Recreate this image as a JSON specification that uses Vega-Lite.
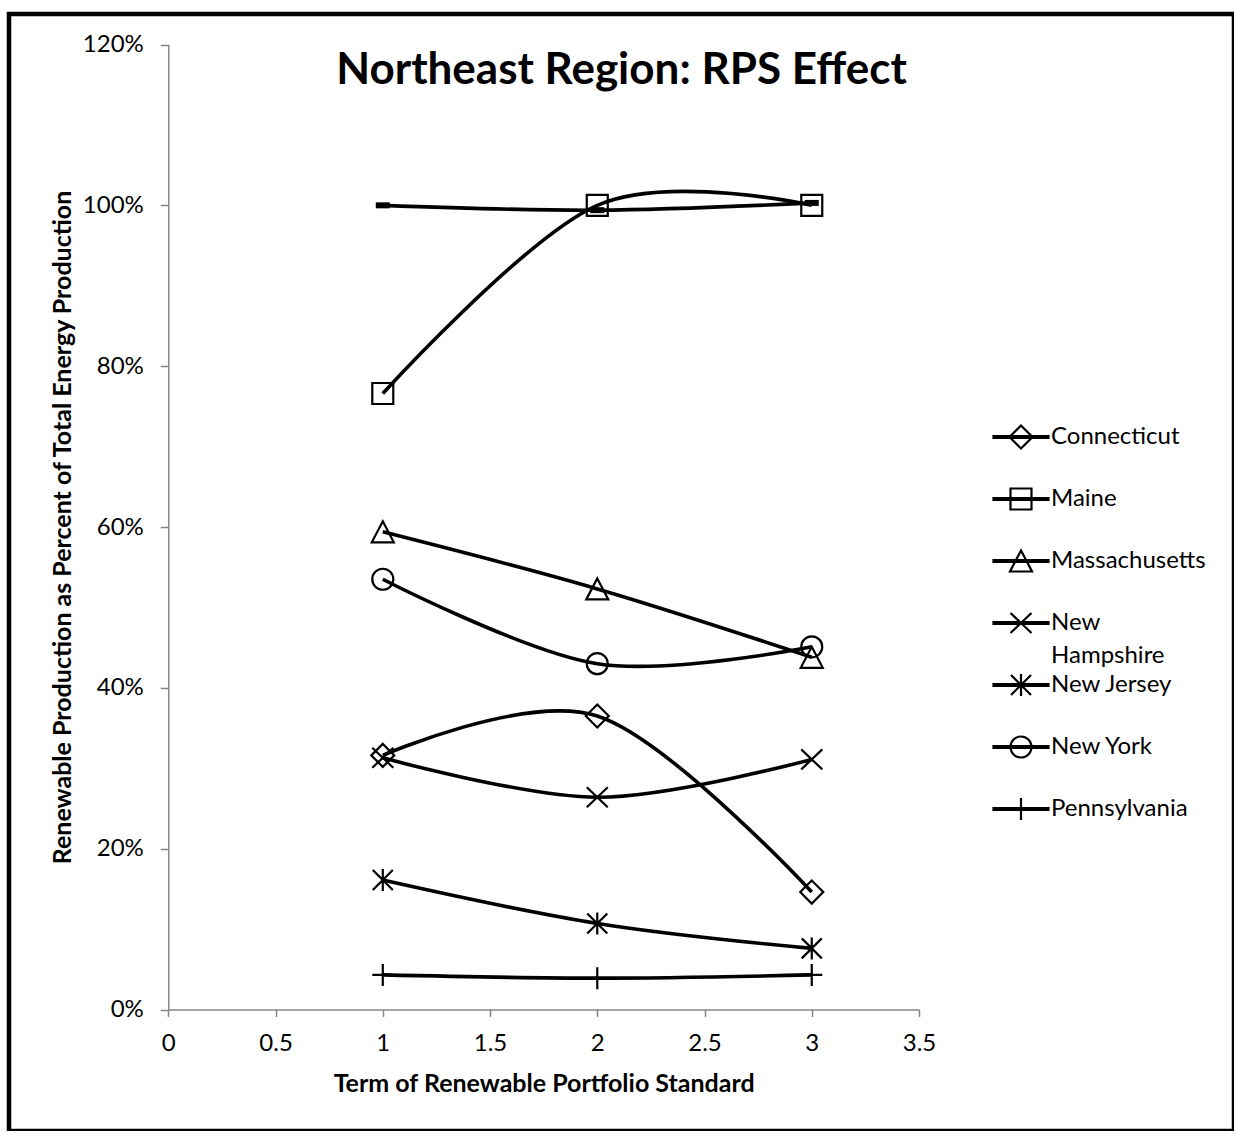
{
  "$schema": "https://vega.github.io/schema/vega-lite/v6.json",
  "width": 1225,
  "height": 1117,
  "autosize": {"type": "none"},
  "padding": {"left": 9, "top": 14, "right": 0, "bottom": 0},
  "background": "white",
  "config": {
    "view": {"stroke": "black", "strokeWidth": 4.5},
    "font": "Lato",
    "style": {"guide-label": {"lineHeight": 33}}
  },
  "title": {
    "text": "Northeast Region: RPS Effect",
    "font": "Lato",
    "fontSize": 44,
    "fontWeight": "bold",
    "color": "black",
    "anchor": "middle",
    "baseline": "alphabetic",
    "offset": -114
  },
  "data": {
    "values": [
      {"state": "Connecticut", "term": 1, "share": 0.316},
      {"state": "Connecticut", "term": 2, "share": 0.365},
      {"state": "Connecticut", "term": 3, "share": 0.146},
      {"state": "Maine", "term": 1, "share": 0.766},
      {"state": "Maine", "term": 2, "share": 1.0},
      {"state": "Maine", "term": 3, "share": 1.0},
      {"state": "Massachusetts", "term": 1, "share": 0.594},
      {"state": "Massachusetts", "term": 2, "share": 0.523},
      {"state": "Massachusetts", "term": 3, "share": 0.438},
      {"state": "New Hampshire", "term": 1, "share": 0.313},
      {"state": "New Hampshire", "term": 2, "share": 0.264},
      {"state": "New Hampshire", "term": 3, "share": 0.311},
      {"state": "New Jersey", "term": 1, "share": 0.161},
      {"state": "New Jersey", "term": 2, "share": 0.107},
      {"state": "New Jersey", "term": 3, "share": 0.076},
      {"state": "New York", "term": 1, "share": 0.535},
      {"state": "New York", "term": 2, "share": 0.43},
      {"state": "New York", "term": 3, "share": 0.451},
      {"state": "Pennsylvania", "term": 1, "share": 0.043},
      {"state": "Pennsylvania", "term": 2, "share": 0.039},
      {"state": "Pennsylvania", "term": 3, "share": 0.043},
      {"state": "Vermont", "term": 1, "share": 1.0},
      {"state": "Vermont", "term": 2, "share": 0.994},
      {"state": "Vermont", "term": 3, "share": 1.003}
    ]
  },
  "encoding": {
    "x": {
      "field": "term",
      "type": "quantitative",
      "scale": {"domain": [0, 3.5], "range": [159.3, 910], "nice": false, "zero": false},
      "axis": {
        "title": "Term of Renewable Portfolio Standard",
        "values": [0, 0.5, 1, 1.5, 2, 2.5, 3, 3.5],
        "format": "~g",
        "offset": -121.5,
        "grid": false,
        "domainColor": "#868686",
        "domainWidth": 1.5,
        "tickColor": "#868686",
        "tickWidth": 1.5,
        "tickSize": 7,
        "labelFont": "Lato",
        "labelFontSize": 24,
        "labelColor": "black",
        "labelPadding": 15,
        "labelFlush": false,
        "labelOverlap": false,
        "titleFont": "Lato",
        "titleFontSize": 25,
        "titleFontWeight": "bold",
        "titleColor": "black",
        "titleBaseline": "middle",
        "titleY": 73.5
      }
    },
    "y": {
      "field": "share",
      "type": "quantitative",
      "scale": {"domain": [0, 1.2], "range": [995.5, 30.5], "nice": false, "zero": false},
      "axis": {
        "title": "Renewable Production as Percent of Total Energy Production",
        "values": [0, 0.2, 0.4, 0.6, 0.8, 1.0, 1.2],
        "format": ".0%",
        "offset": -159.3,
        "grid": false,
        "domainColor": "#868686",
        "domainWidth": 1.5,
        "tickColor": "#868686",
        "tickWidth": 1.5,
        "tickSize": 8,
        "labelFont": "Lato",
        "labelFontSize": 24,
        "labelColor": "black",
        "labelPadding": 17,
        "labelFlush": false,
        "labelOverlap": false,
        "titleFont": "Lato",
        "titleFontSize": 25,
        "titleFontWeight": "bold",
        "titleColor": "black",
        "titleBaseline": "middle",
        "titleAngle": -90,
        "titleX": -106
      }
    }
  },
  "layer": [
    {
      "mark": {"type": "line", "color": "black", "strokeWidth": 3.6, "interpolate": "cardinal"},
      "encoding": {"detail": {"field": "state", "type": "nominal"}}
    },
    {
      "transform": [{"filter": "datum.state !== 'Vermont'"}],
      "mark": {"type": "point", "filled": false, "color": "black", "strokeWidth": 2.2, "size": 400, "opacity": 1},
      "encoding": {
        "shape": {
          "field": "state",
          "type": "nominal",
          "scale": {
            "domain": ["Connecticut", "Maine", "Massachusetts", "New Hampshire", "New Jersey", "New York", "Pennsylvania"],
            "range": [
              "M-1.15,0L0,-1.15L1.15,0L0,1.15Z",
              "M-1.05,-1.05L1.05,-1.05L1.05,1.05L-1.05,1.05Z",
              "M0,-1.05L1.1,1.05L-1.1,1.05Z",
              "M-1.05,-1L1.05,1M-1.05,1L1.05,-1",
              "M-1,-1L1,1M-1,1L1,-1M0,-1.1L0,1.1",
              "M1.05,0A1.05,1.05,0,1,1,-1.05,0A1.05,1.05,0,1,1,1.05,0Z",
              "M-1.05,0L1.05,0M0,-1.1L0,1.1"
            ]
          },
          "legend": null
        }
      }
    },
    {
      "transform": [{"filter": "datum.state === 'Vermont'"}],
      "mark": {"type": "point", "shape": "M-0.7,-0.3L0.7,-0.3L0.7,0.3L-0.7,0.3Z", "filled": true, "color": "black", "size": 400, "opacity": 1}
    },
    {
      "transform": [{"filter": "datum.state !== 'Vermont'"}],
      "mark": {"type": "point", "filled": false, "color": "black", "strokeWidth": 2.2, "size": 400, "opacity": 0},
      "encoding": {
        "shape": {
          "field": "state",
          "type": "nominal",
          "scale": {
            "domain": ["Connecticut", "Maine", "Massachusetts", "New Hampshire", "New Jersey", "New York", "Pennsylvania"],
            "range": [
              "M-2.75,-0.08L2.75,-0.08L2.75,0.08L-2.75,0.08ZM-1.15,0L0,-1.15L1.15,0L0,1.15Z",
              "M-2.75,-0.08L2.75,-0.08L2.75,0.08L-2.75,0.08ZM-1.05,-1.05L1.05,-1.05L1.05,1.05L-1.05,1.05Z",
              "M-2.75,-0.08L2.75,-0.08L2.75,0.08L-2.75,0.08ZM0,-1.05L1.1,1.05L-1.1,1.05Z",
              "M-2.75,-0.08L2.75,-0.08L2.75,0.08L-2.75,0.08ZM-1.05,-1L1.05,1M-1.05,1L1.05,-1",
              "M-2.75,-0.08L2.75,-0.08L2.75,0.08L-2.75,0.08ZM-1,-1L1,1M-1,1L1,-1M0,-1.1L0,1.1",
              "M-2.75,-0.08L2.75,-0.08L2.75,0.08L-2.75,0.08ZM1.05,0A1.05,1.05,0,1,1,-1.05,0A1.05,1.05,0,1,1,1.05,0Z",
              "M-2.75,-0.08L2.75,-0.08L2.75,0.08L-2.75,0.08ZM0,-1.1L0,1.1"
            ]
          },
          "legend": {
            "title": null,
            "orient": "none",
            "legendX": 1000,
            "legendY": 411,
            "padding": 0,
            "symbolSize": 400,
            "symbolStrokeWidth": 2.2,
            "symbolStrokeColor": "black",
            "symbolFillColor": "transparent",
            "symbolOpacity": 1,
            "labelFont": "Lato",
            "labelFontSize": 24,
            "labelColor": "black",
            "labelOffset": 18,
            "labelLimit": 300,
            "gridAlign": "all",
            "rowPadding": 1,
            "labelExpr": "datum.label == 'New Hampshire' ? ['New', 'Hampshire'] : datum.label"
          }
        }
      }
    }
  ],
  "resolve": {"scale": {"shape": "independent"}}
}
